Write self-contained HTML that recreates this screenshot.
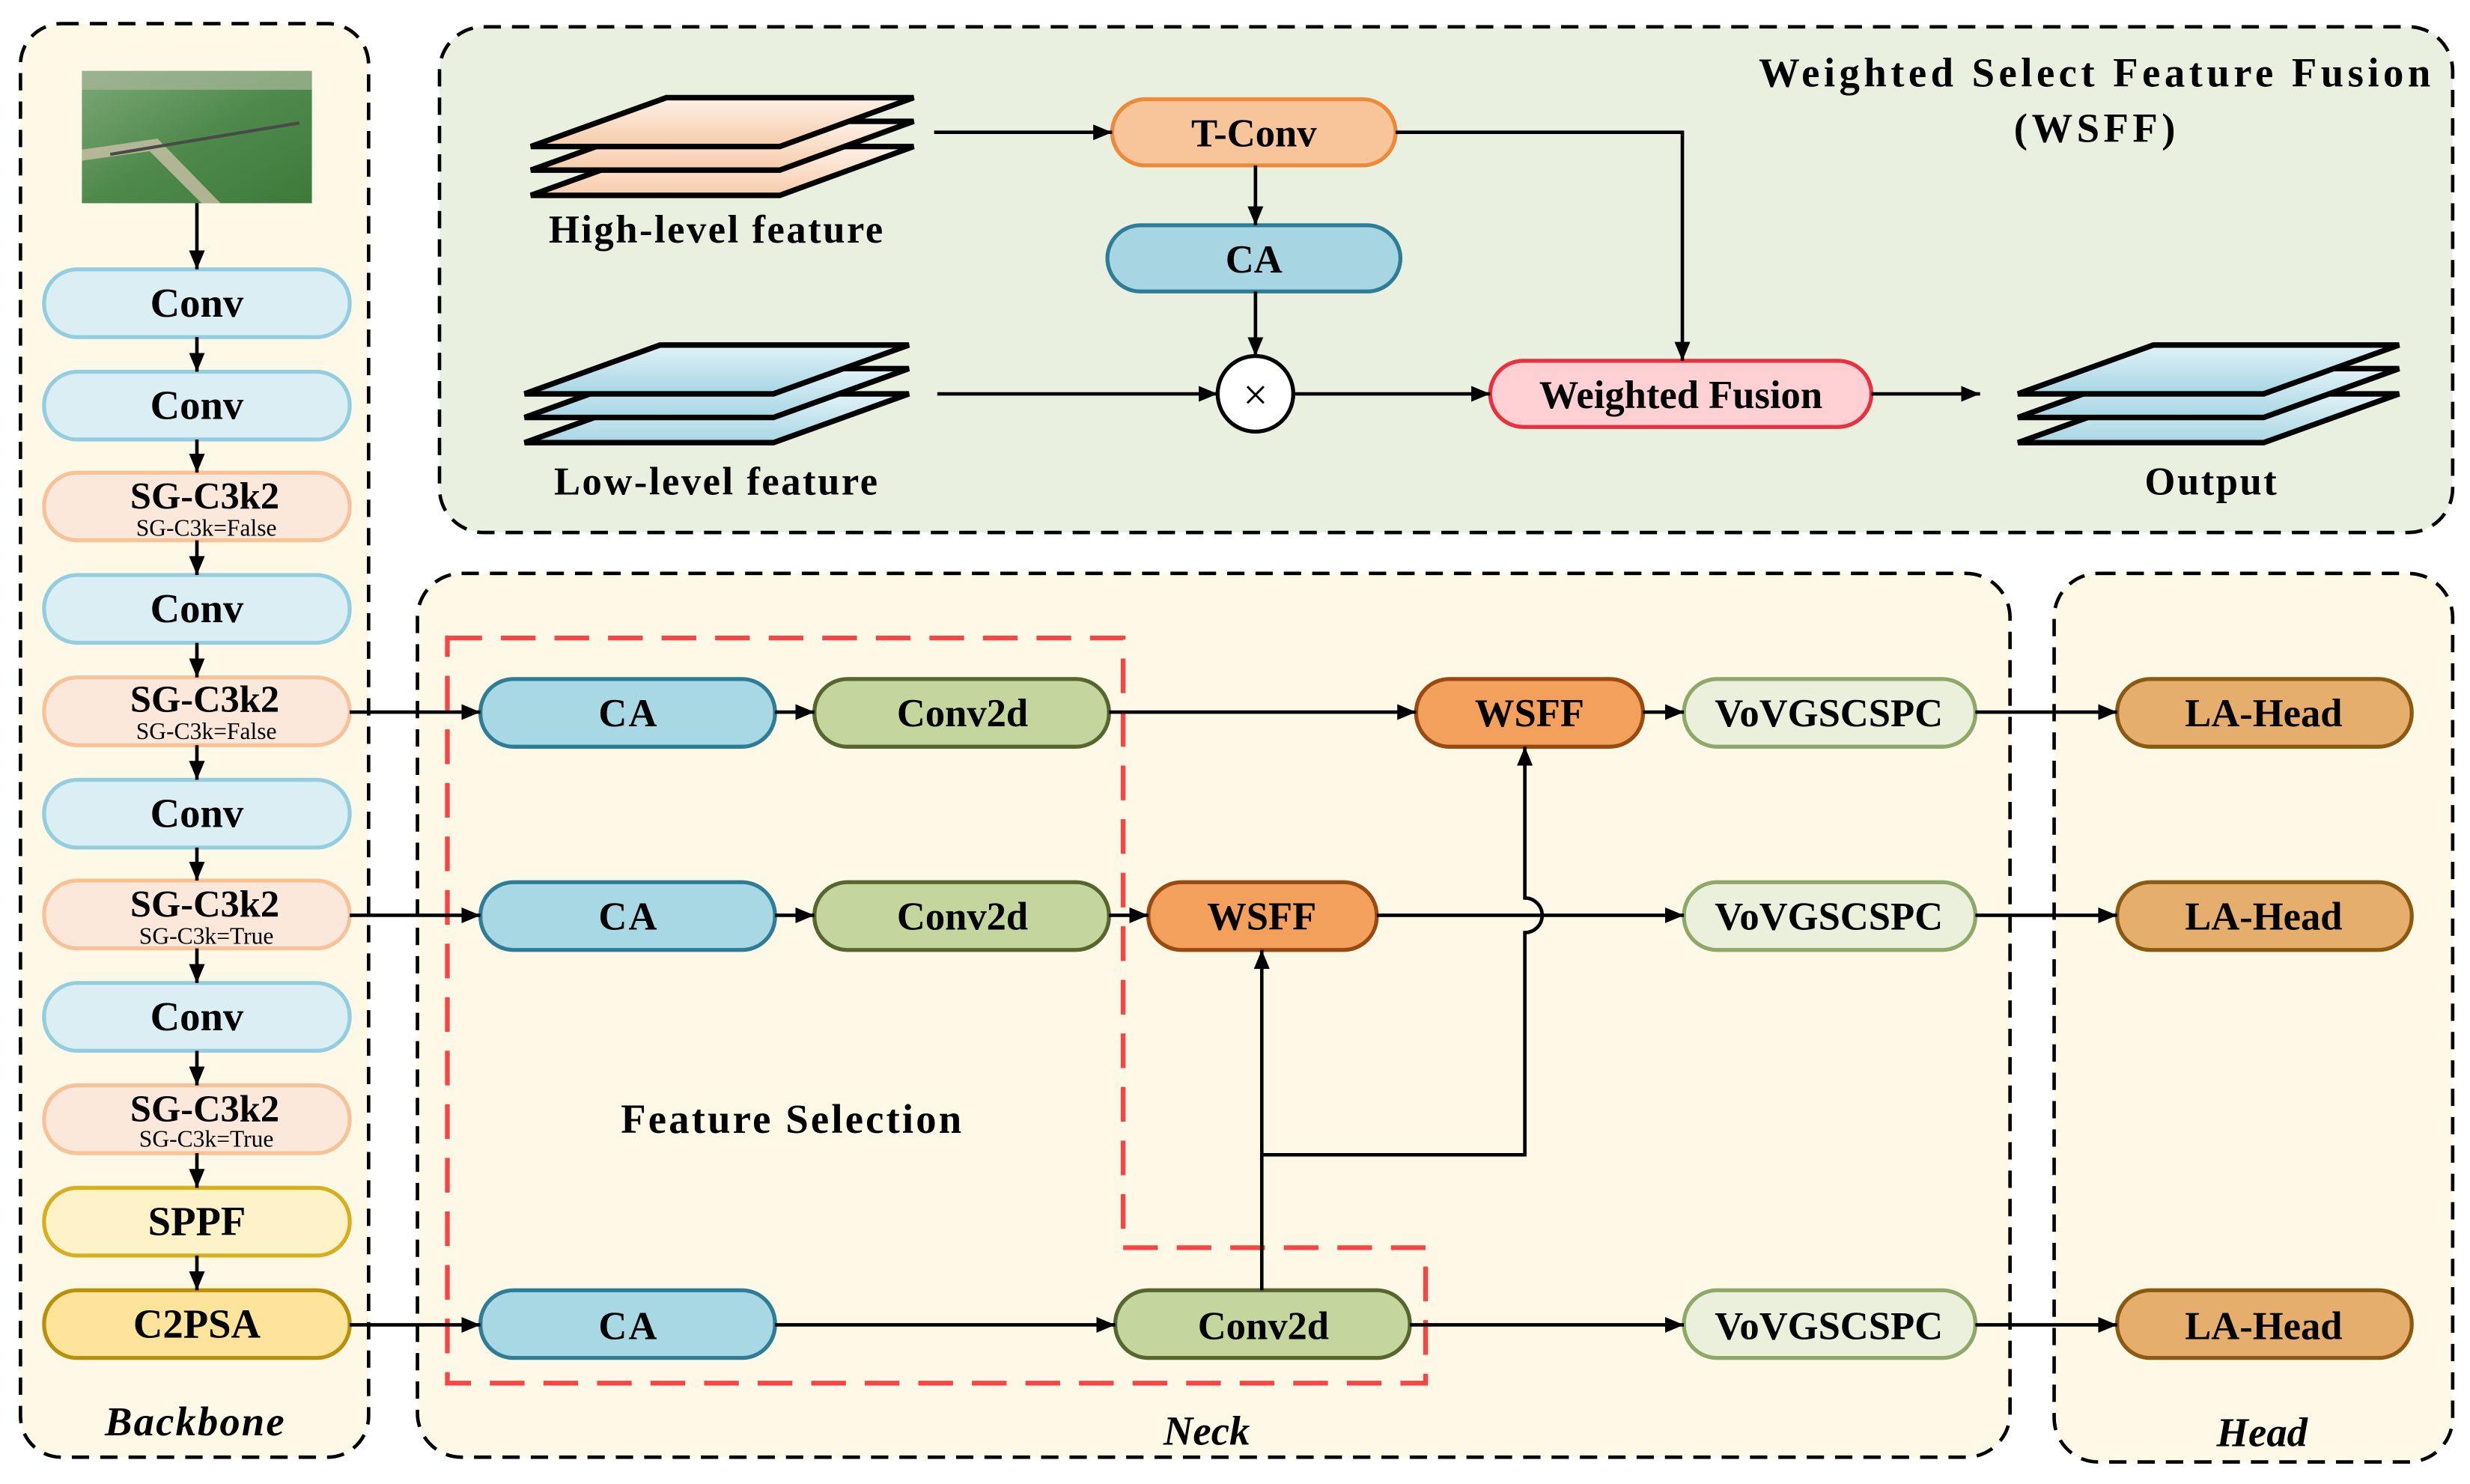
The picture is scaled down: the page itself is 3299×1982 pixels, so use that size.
<!DOCTYPE html>
<html><head><meta charset="utf-8"><style>
html,body{margin:0;padding:0;background:#fff}
svg{display:block}
text{font-family:"Liberation Serif",serif;font-weight:bold;fill:#000}
</style></head><body>
<svg width="3299" height="1982" viewBox="0 0 1568 942" preserveAspectRatio="none" xmlns="http://www.w3.org/2000/svg">
<defs>
<marker id="a" viewBox="0 0 12 10" refX="12" refY="5" markerWidth="12" markerHeight="10" markerUnits="userSpaceOnUse" orient="auto"><path d="M0,0L12,5L0,10z" fill="#000"/></marker>
<linearGradient id="hp" x1="0" y1="0" x2="0" y2="1"><stop offset="0" stop-color="#fef1e8"/><stop offset="1" stop-color="#f7cba8"/></linearGradient>
<linearGradient id="lp" x1="0" y1="0" x2="0" y2="1"><stop offset="0" stop-color="#e2f2f7"/><stop offset="1" stop-color="#a6d6e4"/></linearGradient>
<linearGradient id="img" x1="0" y1="0" x2="1" y2="1"><stop offset="0" stop-color="#7fa878"/><stop offset="0.5" stop-color="#4f8a4c"/><stop offset="1" stop-color="#3d7a3a"/></linearGradient>
</defs>
<rect x="13" y="15" width="221" height="910" rx="26" fill="#fef8e6" stroke="#000" stroke-width="2.2" stroke-dasharray="11,7"/>
<rect x="279" y="17" width="1278" height="321" rx="28" fill="#e9f0df" stroke="#000" stroke-width="2.2" stroke-dasharray="11,7"/>
<rect x="265" y="364" width="1011" height="561" rx="28" fill="#fef8e6" stroke="#000" stroke-width="2.2" stroke-dasharray="11,7"/>
<rect x="1304" y="364" width="253" height="564" rx="28" fill="#fef8e6" stroke="#000" stroke-width="2.2" stroke-dasharray="11,7"/>
<rect x="52" y="45" width="146" height="84" fill="url(#img)"/>
<rect x="52" y="45" width="146" height="12" fill="#a8b89a" opacity="0.7"/>
<path d="M52,95 L100,88 L140,129 L128,129 L95,96 L52,102z" fill="#c9c1a8" opacity="0.8"/>
<path d="M70,98 L190,78" stroke="#4a4a4a" stroke-width="2"/>
<g stroke-width="2.5">
<rect x="28" y="171" width="194" height="43" rx="21" fill="#dbeef4" stroke="#93cde0"/>
<rect x="28" y="236" width="194" height="43" rx="21" fill="#dbeef4" stroke="#93cde0"/>
<rect x="28" y="300" width="194" height="43" rx="21" fill="#fbe8da" stroke="#f7c298"/>
<rect x="28" y="365" width="194" height="43" rx="21" fill="#dbeef4" stroke="#93cde0"/>
<rect x="28" y="430" width="194" height="43" rx="21" fill="#fbe8da" stroke="#f7c298"/>
<rect x="28" y="495" width="194" height="43" rx="21" fill="#dbeef4" stroke="#93cde0"/>
<rect x="28" y="559" width="194" height="43" rx="21" fill="#fbe8da" stroke="#f7c298"/>
<rect x="28" y="624" width="194" height="43" rx="21" fill="#dbeef4" stroke="#93cde0"/>
<rect x="28" y="689" width="194" height="43" rx="21" fill="#fbe8da" stroke="#f7c298"/>
<rect x="28" y="754" width="194" height="43" rx="21" fill="#fef3c8" stroke="#d8ae1c"/>
<rect x="28" y="819" width="194" height="43" rx="21" fill="#fde49a" stroke="#b8900a"/>
</g>
<g font-size="26" text-anchor="middle">
<text x="125" y="201">Conv</text>
<text x="125" y="266">Conv</text>
<text x="130" y="323" font-size="24">SG-C3k2</text>
<text x="125" y="395">Conv</text>
<text x="130" y="452" font-size="24">SG-C3k2</text>
<text x="125" y="525">Conv</text>
<text x="130" y="582" font-size="24">SG-C3k2</text>
<text x="125" y="654">Conv</text>
<text x="130" y="712" font-size="24">SG-C3k2</text>
<text x="125" y="784">SPPF</text>
<text x="125" y="849">C2PSA</text>
</g>
<g font-size="15" text-anchor="middle">
<text x="131" y="340" style="font-weight:normal">SG-C3k=False</text>
<text x="131" y="469" style="font-weight:normal">SG-C3k=False</text>
<text x="131" y="599" style="font-weight:normal">SG-C3k=True</text>
<text x="131" y="728" style="font-weight:normal">SG-C3k=True</text>
</g>
<g stroke="#000" stroke-width="2.2" fill="none" marker-end="url(#a)">
<line x1="125" y1="129" x2="125" y2="171"/>
<line x1="125" y1="214" x2="125" y2="236"/>
<line x1="125" y1="279" x2="125" y2="300"/>
<line x1="125" y1="343" x2="125" y2="365"/>
<line x1="125" y1="408" x2="125" y2="430"/>
<line x1="125" y1="473" x2="125" y2="495"/>
<line x1="125" y1="538" x2="125" y2="559"/>
<line x1="125" y1="602" x2="125" y2="624"/>
<line x1="125" y1="667" x2="125" y2="689"/>
<line x1="125" y1="732" x2="125" y2="754"/>
<line x1="125" y1="797" x2="125" y2="819"/>
</g>
<text x="124" y="911" font-size="26" text-anchor="middle" font-style="italic" letter-spacing="1">Backbone</text>
<text x="1331" y="55" font-size="26" text-anchor="middle" letter-spacing="2.6">Weighted Select Feature Fusion</text>
<text x="1331" y="90" font-size="26" text-anchor="middle" letter-spacing="2.6">(WSFF)</text>
<g stroke="#000" stroke-width="3.5" stroke-linejoin="miter">
<polygon points="337,124 423,93 580,93 495,124" fill="url(#hp)"/>
<polygon points="337,108 423,77 580,77 495,108" fill="url(#hp)"/>
<polygon points="337,93 423,62 580,62 495,93" fill="url(#hp)"/>
<polygon points="333,281 419,250 577,250 491,281" fill="url(#lp)"/>
<polygon points="333,265 419,234 577,234 491,265" fill="url(#lp)"/>
<polygon points="333,250 419,219 577,219 491,250" fill="url(#lp)"/>
<polygon points="1281,281 1367,250 1523,250 1437,281" fill="url(#lp)"/>
<polygon points="1281,265 1367,234 1523,234 1437,265" fill="url(#lp)"/>
<polygon points="1281,250 1367,219 1523,219 1437,250" fill="url(#lp)"/>
</g>
<g font-size="25" text-anchor="middle" letter-spacing="1.2">
<text x="455" y="154">High-level feature</text>
<text x="455" y="314">Low-level feature</text>
<text x="1404" y="314">Output</text>
</g>
<g stroke-width="2.5">
<rect x="706" y="63" width="180" height="42" rx="21" fill="#f8c49a" stroke="#ec8a3a"/>
<rect x="703" y="143" width="186" height="42" rx="21" fill="#a8d5e2" stroke="#2e7d96"/>
<rect x="946" y="229" width="242" height="42" rx="21" fill="#fdd0d4" stroke="#e8303e"/>
</g>
<circle cx="797" cy="250" r="24" fill="#fff" stroke="#000" stroke-width="2.5"/>
<text x="797" y="260" font-size="28" text-anchor="middle" style="font-weight:normal">×</text>
<g font-size="25" text-anchor="middle">
<text x="796" y="93">T-Conv</text>
<text x="796" y="173">CA</text>
<text x="1067" y="259">Weighted Fusion</text>
</g>
<g stroke="#000" stroke-width="2.2" fill="none" marker-end="url(#a)">
<line x1="593" y1="84" x2="706" y2="84"/>
<line x1="797" y1="105" x2="797" y2="143"/>
<line x1="797" y1="185" x2="797" y2="226"/>
<line x1="595" y1="250" x2="773" y2="250"/>
<line x1="821" y1="250" x2="946" y2="250"/>
<polyline points="886,84 1068,84 1068,229"/>
<line x1="1188" y1="250" x2="1257" y2="250"/>
</g>
<polygon points="284,405 713,405 713,792 905,792 905,878 284,878" fill="none" stroke="#f94444" stroke-width="3" stroke-dasharray="22,12"/>
<g stroke-width="2.5">
<rect x="305" y="431" width="187" height="43" rx="21" fill="#a8d8e4" stroke="#2e7d96"/>
<rect x="517" y="431" width="187" height="43" rx="21" fill="#c4d59e" stroke="#56662e"/>
<rect x="305" y="560" width="187" height="43" rx="21" fill="#a8d8e4" stroke="#2e7d96"/>
<rect x="517" y="560" width="187" height="43" rx="21" fill="#c4d59e" stroke="#56662e"/>
<rect x="305" y="819" width="187" height="43" rx="21" fill="#a8d8e4" stroke="#2e7d96"/>
<rect x="708" y="819" width="187" height="43" rx="21" fill="#c4d59e" stroke="#56662e"/>
<rect x="899" y="431" width="144" height="43" rx="21" fill="#f2a05c" stroke="#9a4a10"/>
<rect x="729" y="560" width="145" height="43" rx="21" fill="#f2a05c" stroke="#9a4a10"/>
<rect x="1069" y="431" width="185" height="43" rx="21" fill="#eaf0dc" stroke="#8fa86a"/>
<rect x="1069" y="560" width="185" height="43" rx="21" fill="#eaf0dc" stroke="#8fa86a"/>
<rect x="1069" y="819" width="185" height="43" rx="21" fill="#eaf0dc" stroke="#8fa86a"/>
<rect x="1344" y="431" width="187" height="43" rx="21" fill="#e6ae6c" stroke="#8a5a10"/>
<rect x="1344" y="560" width="187" height="43" rx="21" fill="#e6ae6c" stroke="#8a5a10"/>
<rect x="1344" y="819" width="187" height="43" rx="21" fill="#e6ae6c" stroke="#8a5a10"/>
</g>
<g font-size="25" text-anchor="middle">
<text x="399" y="461" letter-spacing="1">CA</text>
<text x="611" y="461">Conv2d</text>
<text x="399" y="590" letter-spacing="1">CA</text>
<text x="611" y="590">Conv2d</text>
<text x="399" y="850" letter-spacing="1">CA</text>
<text x="802" y="850">Conv2d</text>
<text x="971" y="461">WSFF</text>
<text x="801" y="590">WSFF</text>
<text x="1161" y="461">VoVGSCSPC</text>
<text x="1161" y="590">VoVGSCSPC</text>
<text x="1161" y="850">VoVGSCSPC</text>
<text x="1437" y="461">LA-Head</text>
<text x="1437" y="590">LA-Head</text>
<text x="1437" y="850">LA-Head</text>
</g>
<text x="503" y="719" font-size="26" text-anchor="middle" letter-spacing="1.5">Feature Selection</text>
<text x="766" y="917" font-size="26" text-anchor="middle" font-style="italic">Neck</text>
<text x="1436" y="918" font-size="26" text-anchor="middle" font-style="italic">Head</text>
<g stroke="#000" stroke-width="2.2" fill="none" marker-end="url(#a)">
<line x1="222" y1="452" x2="305" y2="452"/>
<line x1="222" y1="581" x2="305" y2="581"/>
<line x1="222" y1="841" x2="305" y2="841"/>
<line x1="492" y1="452" x2="517" y2="452"/>
<line x1="492" y1="581" x2="517" y2="581"/>
<line x1="492" y1="841" x2="708" y2="841"/>
<line x1="704" y1="452" x2="899" y2="452"/>
<line x1="704" y1="581" x2="729" y2="581"/>
<line x1="874" y1="581" x2="1069" y2="581"/>
<line x1="1043" y1="452" x2="1069" y2="452"/>
<line x1="895" y1="841" x2="1069" y2="841"/>
<line x1="1254" y1="452" x2="1344" y2="452"/>
<line x1="1254" y1="581" x2="1344" y2="581"/>
<line x1="1254" y1="841" x2="1344" y2="841"/>
<line x1="801" y1="819" x2="801" y2="603"/>
<path d="M801,733 L968,733 L968,592 A11,11 0 0 0 968,570 L968,474"/>
</g>
</svg>
</body></html>
